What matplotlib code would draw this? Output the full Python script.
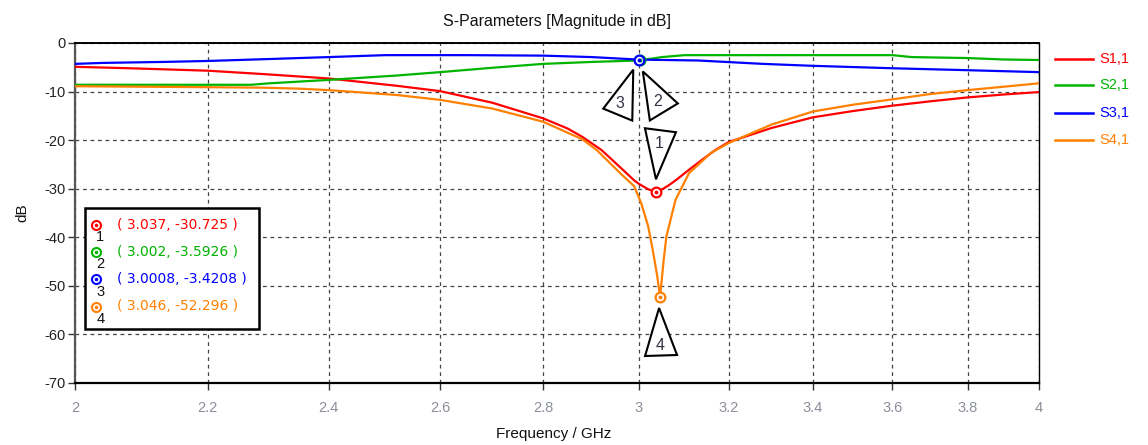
import matplotlib
matplotlib.use('Agg')
import matplotlib.pyplot as plt
from matplotlib.patches import Polygon, Rectangle
from matplotlib.lines import Line2D
import matplotlib.transforms as mtransforms
from matplotlib.ticker import FixedLocator, FixedFormatter, NullLocator

plt.rcParams['font.family'] = ['Liberation Sans', 'DejaVu Sans']

# ---------------- data ----------------
series_names = ['S1,1', 'S2,1', 'S3,1', 'S4,1']
colors = ['#ff0000', '#00b400', '#0000ff', '#ff8000']

s11_f = [2.0, 2.08, 2.2, 2.29, 2.4, 2.52, 2.6, 2.7, 2.8, 2.85, 2.88, 2.92, 2.96, 2.99, 3.0, 3.02,
         3.037, 3.053, 3.065, 3.08, 3.11, 3.14, 3.17, 3.2, 3.3, 3.4, 3.5, 3.6, 3.7, 3.8, 3.9, 4.0]
s11_db = [-4.9, -5.2, -5.7, -6.4, -7.3, -8.8, -9.9, -12.3, -15.5, -17.6, -19.3, -22.0, -25.6, -28.3, -29.0, -30.1,
          -30.725, -30.0, -29.3, -28.3, -26.1, -24.0, -22.0, -20.4, -17.5, -15.3, -14.0, -12.9, -12.0, -11.2, -10.6, -10.1]

s21_f = [2.0, 2.15, 2.27, 2.3, 2.4, 2.52, 2.6, 2.7, 2.8, 2.9, 3.002, 3.05, 3.1, 3.2, 3.4, 3.6,
         3.65, 3.8, 3.9, 4.0]
s21_db = [-8.6, -8.6, -8.6, -8.3, -7.6, -6.7, -6.0, -5.1, -4.3, -3.9, -3.5926, -2.9, -2.5, -2.5, -2.5, -2.5,
          -2.9, -3.1, -3.4, -3.5]

s31_f = [2.0, 2.04, 2.13, 2.2, 2.3, 2.4, 2.5, 2.65, 2.8, 2.9, 3.0008, 3.13, 3.28, 3.4, 3.6, 3.8, 4.0]
s31_db = [-4.3, -4.1, -3.9, -3.7, -3.3, -2.9, -2.5, -2.5, -2.6, -2.9, -3.4208, -3.6, -4.3, -4.7, -5.2, -5.6, -6.0]

s41_f = [2.0, 2.1, 2.2, 2.29, 2.35, 2.4, 2.52, 2.6, 2.7, 2.8, 2.88, 2.91, 2.96, 2.99, 3.005, 3.02,
         3.03, 3.04, 3.046, 3.054, 3.06, 3.08, 3.11, 3.16, 3.2, 3.3, 3.4, 3.5, 3.6, 3.7, 3.8, 3.9, 4.0]
s41_db = [-8.9, -9.0, -9.1, -9.2, -9.4, -9.7, -10.7, -11.7, -13.5, -16.2, -19.8, -22.0, -26.8, -29.5, -33.0, -37.7,
          -42.6, -48.1, -52.296, -44.6, -39.8, -32.3, -26.8, -22.6, -20.6, -16.8, -14.1, -12.7, -11.6, -10.5, -9.7, -9.0, -8.3]

series_f = [s11_f, s21_f, s31_f, s41_f]
series_db = [s11_db, s21_db, s31_db, s41_db]

marker_ids = ['1', '2', '3', '4']
marker_series = [0, 1, 2, 3]
marker_f = [3.037, 3.002, 3.0008, 3.046]
marker_db = [-30.725, -3.5926, -3.4208, -52.296]

xticks = [2, 2.2, 2.4, 2.6, 2.8, 3, 3.2, 3.4, 3.6, 3.8, 4]
xtick_labels = ['2', '2.2', '2.4', '2.6', '2.8', '3', '3.2', '3.4', '3.6', '3.8', '4']
yticks = [0, -10, -20, -30, -40, -50, -60, -70]

# ---------------- figure ----------------
fig = plt.figure(figsize=(11.48, 4.45), dpi=100)
ax = fig.add_axes([75 / 1148, 1 - 383 / 445, 964 / 1148, 340 / 445])

for f, d, c in zip(series_f, series_db, colors):
    ax.plot(f, d, color=c, lw=1.6, zorder=3, solid_joinstyle='round')

ax.set_xscale('log')
ax.set_xlim(2, 4)
ax.set_ylim(-70, 0)
ax.xaxis.set_major_locator(FixedLocator(xticks))
ax.xaxis.set_major_formatter(FixedFormatter(xtick_labels))
ax.xaxis.set_minor_locator(NullLocator())
ax.set_yticks(yticks)
ax.set_yticklabels([str(v) for v in yticks])

ax.grid(True, which='major', color='#444444', linestyle=(0, (3, 3)), linewidth=0.9, zorder=1)
ax.tick_params(axis='x', direction='out', length=5, width=1, colors='#333333',
               labelcolor='#8a8f99', labelsize=10.5, pad=8)
ax.tick_params(axis='y', direction='out', length=5, width=1, colors='#333333',
               labelcolor='#222222', labelsize=10.5, pad=2)
for s in ['top', 'right', 'bottom']:
    ax.spines[s].set_color('black')
    ax.spines[s].set_linewidth(1.0)
ax.spines['bottom'].set_linewidth(1.6)
ax.spines['top'].set_linewidth(1.4)
ax.spines['left'].set_color('#555555')
ax.spines['left'].set_linewidth(1.6)

ax.set_title('S-Parameters [Magnitude in dB]', fontsize=11.5, color='#111111', pad=12)
ax.set_xlabel('Frequency / GHz', fontsize=11, color='#111111', labelpad=4)
ax.xaxis.set_label_coords(0.497, -0.13)
ax.set_ylabel('dB', fontsize=11, color='#111111')
ax.yaxis.set_label_coords(-0.047, 0.5)

# markers on curves
for mi, si, mf, md in zip(marker_ids, marker_series, marker_f, marker_db):
    ax.plot([mf], [md], marker='o', ms=7, mfc='white', mec=colors[si], mew=1.6, zorder=5, clip_on=False)
    ax.plot([mf], [md], marker='o', ms=1.8, color=colors[si], zorder=6, clip_on=False)

# triangle annotations (pixel offsets from the marker)
tri_offsets = [
    [(-11, 64), (20, 60), (0, 13)],
    [(3, -11), (38, -43), (10, -60)],
    [(-6, -10), (-36, -49), (-7, -61)],
    [(-1, -11), (-15, -59), (17, -58)],
]
tri_label_offsets = [(3, 49), (18, -41), (-19, -44), (0, -48)]
for mi, mf, md, verts, lo in zip(marker_ids, marker_f, marker_db, tri_offsets, tri_label_offsets):
    tr = fig.dpi_scale_trans + mtransforms.ScaledTranslation(mf, md, ax.transData)
    poly = Polygon([(x / 100, y / 100) for x, y in verts], closed=True, facecolor='white',
                   edgecolor='black', lw=1.5, transform=tr, zorder=7, clip_on=False)
    ax.add_patch(poly)
    ax.text(lo[0] / 100, lo[1] / 100, mi, transform=tr, ha='center', va='center',
            fontsize=11.5, color='#333344', zorder=8)

# marker value box
box = Rectangle((0.0104, 0.1588), 0.1805, 0.3559, transform=ax.transAxes, facecolor='white',
                edgecolor='black', lw=1.8, zorder=9)
ax.add_patch(box)
row_y0 = 0.4647
row_dy = 0.0799
for k, (mi, si, mf, md) in enumerate(zip(marker_ids, marker_series, marker_f, marker_db)):
    yy = row_y0 - k * row_dy
    ax.plot([0.0215], [yy], marker='o', ms=6.5, mfc='white', mec=colors[si], mew=1.5,
            transform=ax.transAxes, zorder=10, clip_on=False)
    ax.plot([0.0215], [yy], marker='o', ms=1.6, color=colors[si],
            transform=ax.transAxes, zorder=11, clip_on=False)
    ax.text(0.0262, yy - 0.036, mi, transform=ax.transAxes, ha='center', va='center',
            fontsize=10.5, color='#111111', zorder=11)
    ax.text(0.0433, yy, f'( {mf:g}, {md:g} )', transform=ax.transAxes, ha='left', va='center',
            fontsize=10, color=colors[si], zorder=11, family=['DejaVu Sans'])

# right legend
leg_y = [59, 85, 112.7, 140]
for name, c, py in zip(series_names, colors, leg_y):
    yf = 1 - py / 445
    fig.add_artist(Line2D([1055 / 1148, 1093 / 1148], [yf, yf], color=c, lw=1.8,
                          transform=fig.transFigure))
    fig.text(1099 / 1148, yf, name, color=c, fontsize=10.5, ha='left', va='center')

fig.savefig('out.png', dpi=100)
